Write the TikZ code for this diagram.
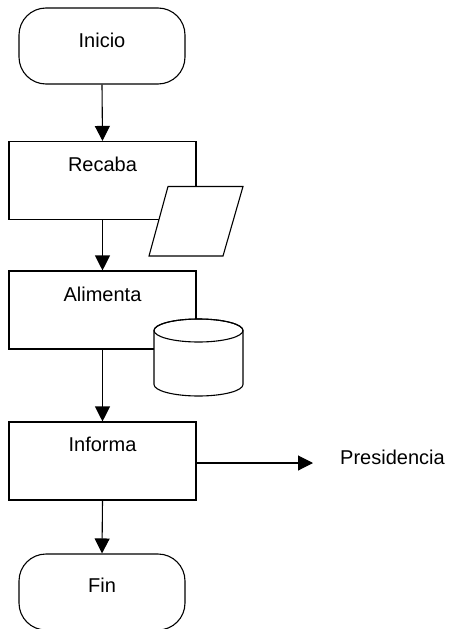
\documentclass[tikz,border=0pt]{standalone}
\usepackage{fontspec}
\setmainfont{Liberation Sans}
\usetikzlibrary{arrows.meta}
\begin{document}
\begin{tikzpicture}[x=1pt,y=1pt,
  every node/.style={font=\fontsize{20}{24}\selectfont},
  terminal/.style={draw,line width=1.1pt,rounded corners=27pt,minimum width=166pt,minimum height=76pt,inner sep=0pt},
  procbox/.style={draw,line width=1.1pt,minimum width=187pt,minimum height=78pt,inner sep=0pt},
  txt/.style={inner sep=0pt},
  flow/.style={line width=1.1pt,-{Triangle[width=15pt,length=15pt]}},
  shapeline/.style={draw,line width=1.1pt,fill=white}]
\clip (0,0) rectangle (451,-629);
\useasboundingbox (0,0) rectangle (451,-629);

% start terminal
\node[terminal] (inicio) at (102,-46) {};
\node[txt] (inicioT) at (102,-40.5) {Inicio};

% process boxes
\node[procbox] (recaba) at (102.5,-180.5) {};
\node[txt] (recabaT) at (102.5,-164) {Recaba};
\node[procbox] (alimenta) at (102.5,-310) {};
\node[txt] (alimentaT) at (102.5,-294) {Alimenta};
\node[procbox] (informa) at (102.5,-461) {};
\node[txt] (informaT) at (102.5,-444) {Informa};

% end terminal
\node[terminal] (fin) at (102,-592) {};
\node[txt] (finT) at (102,-585) {Fin};

% input/output parallelogram
\path[shapeline] (168,-186.5) -- (243,-186.5) -- (223,-256) -- (149,-256) -- cycle;

% stored data cylinder
\path[shapeline] (154,-330.5) -- (154,-384.5)
  arc[start angle=180,end angle=360,x radius=44.5pt,y radius=11.5pt]
  -- (243,-330.5)
  arc[start angle=0,end angle=180,x radius=44.5pt,y radius=11.5pt] -- cycle;
\draw[line width=1.1pt] (198.5,-330.5) ellipse[x radius=44.5pt,y radius=11.5pt];

% destination label
\node[txt,anchor=west] (pres) at (340,-457) {Presidencia};
\coordinate (presIn) at (313,-463);

% connectors
\draw[flow] (inicio.south) -- (recaba.north);
\draw[flow] (recaba.south) -- (alimenta.north);
\draw[flow] (alimenta.south) -- (informa.north);
\draw[flow] (informa.south) -- (fin.north);
\draw[flow] (informa.east |- presIn) -- (presIn);
\end{tikzpicture}
\end{document}
